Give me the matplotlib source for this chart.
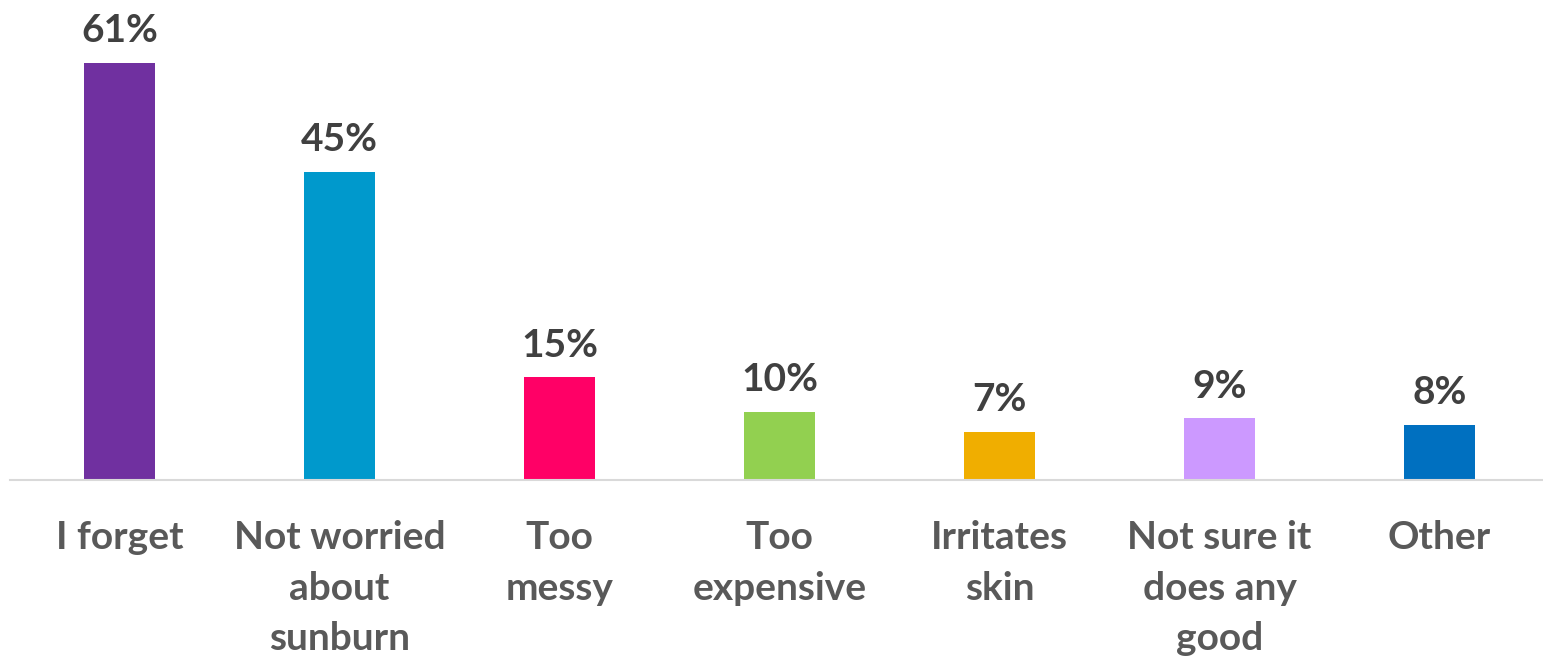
import matplotlib.pyplot as plt

# datos del grafico
categorias = ["I forget", "Not worried\nabout\nsunburn", "Too\nmessy", "Too\nexpensive",
              "Irritates\nskin", "Not sure it\ndoes any\ngood", "Other"]
valores = [61, 45, 15, 10, 7, 9, 8]
colores = ["#7030A0", "#0099CC", "#FF0066", "#92D050", "#F0AE00", "#CC99FF", "#0070C0"]

plt.rcParams['font.family'] = ['Lato', 'DejaVu Sans']

fig = plt.figure(figsize=(15.43, 6.6), dpi=100)
ax = fig.add_axes([9.5 / 1543, 180 / 660, 1540 / 1543, 478.8 / 660])

x = range(len(valores))
ax.bar(x, valores, width=0.32, color=colores, zorder=2)

for i, v in zip(x, valores):
    ax.annotate(f"{v}%", (i, v), xytext=(0, 15), textcoords="offset points",
                ha="center", va="baseline", fontsize=28, fontweight="bold", color="#404040")

ax.set_xlim(-0.5, 6.5)
ax.set_ylim(0, 70)
ax.set_xticks(list(x))
ax.set_xticklabels(categorias, fontsize=28, fontweight="bold", color="#595959",
                   linespacing=1.53, va="top")
ax.tick_params(axis="x", length=0, pad=29)
ax.set_yticks([])
for lado in ["top", "right", "left"]:
    ax.spines[lado].set_visible(False)
ax.spines["bottom"].set_color("#D9D9D9")
ax.spines["bottom"].set_linewidth(1.5)

fig.savefig("out.png", dpi=100)
